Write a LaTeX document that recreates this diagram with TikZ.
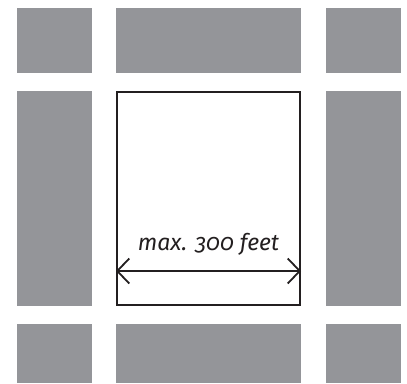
\documentclass[tikz,border=0pt]{standalone}
\usepackage{fontspec}
\setmainfont[Numbers=OldStyle]{Fira Sans}
\usetikzlibrary{arrows.meta}
\definecolor{figGris}{RGB}{148,149,153}
\definecolor{figTrait}{RGB}{35,31,32}

\begin{document}
\begin{tikzpicture}[
  x=1pt, y=-1pt, every node/.style={font=\normalsize},
  lot/.style={fill=figGris, inner sep=0pt, outer sep=0pt, anchor=north west},
  parcel/.style={draw=figTrait, line width=2pt, fill=white, inner sep=0pt,
                 minimum width=183pt, minimum height=213pt},
  cote/.style={draw=figTrait, line width=1.8pt,
               {Straight Barb[length=12pt, width=25pt, line width=1.8pt]}-{Straight Barb[length=12pt, width=25pt, line width=1.8pt]}},
  lbl/.style={font=\fontsize{23}{26}\selectfont\itshape, text=figTrait, anchor=base, inner sep=0pt}
]
\useasboundingbox (0,0) rectangle (407,383);

% neighbouring lots
\node[lot, minimum width=75pt,  minimum height=65pt]  (nw) at (17,8)    {};
\node[lot, minimum width=185pt, minimum height=65pt]  (n)  at (116,8)   {};
\node[lot, minimum width=75pt,  minimum height=65pt]  (ne) at (326,8)   {};
\node[lot, minimum width=75pt,  minimum height=215pt] (w)  at (17,91)   {};
\node[lot, minimum width=75pt,  minimum height=215pt] (e)  at (326,91)  {};
\node[lot, minimum width=75pt,  minimum height=59pt]  (sw) at (17,324)  {};
\node[lot, minimum width=185pt, minimum height=59pt]  (s)  at (116,324) {};
\node[lot, minimum width=75pt,  minimum height=59pt]  (se) at (326,324) {};

% the lot itself
\node[parcel] (plot) at (208.5,198.5) {};
\coordinate (limL) at (plot.west |- 0,271);
\coordinate (limR) at (plot.east |- 0,271);
\draw[cote] (limL) -- (limR);
\node[lbl] (maxlbl) at (208.5,250) {max. 300 feet};
\end{tikzpicture}
\end{document}
